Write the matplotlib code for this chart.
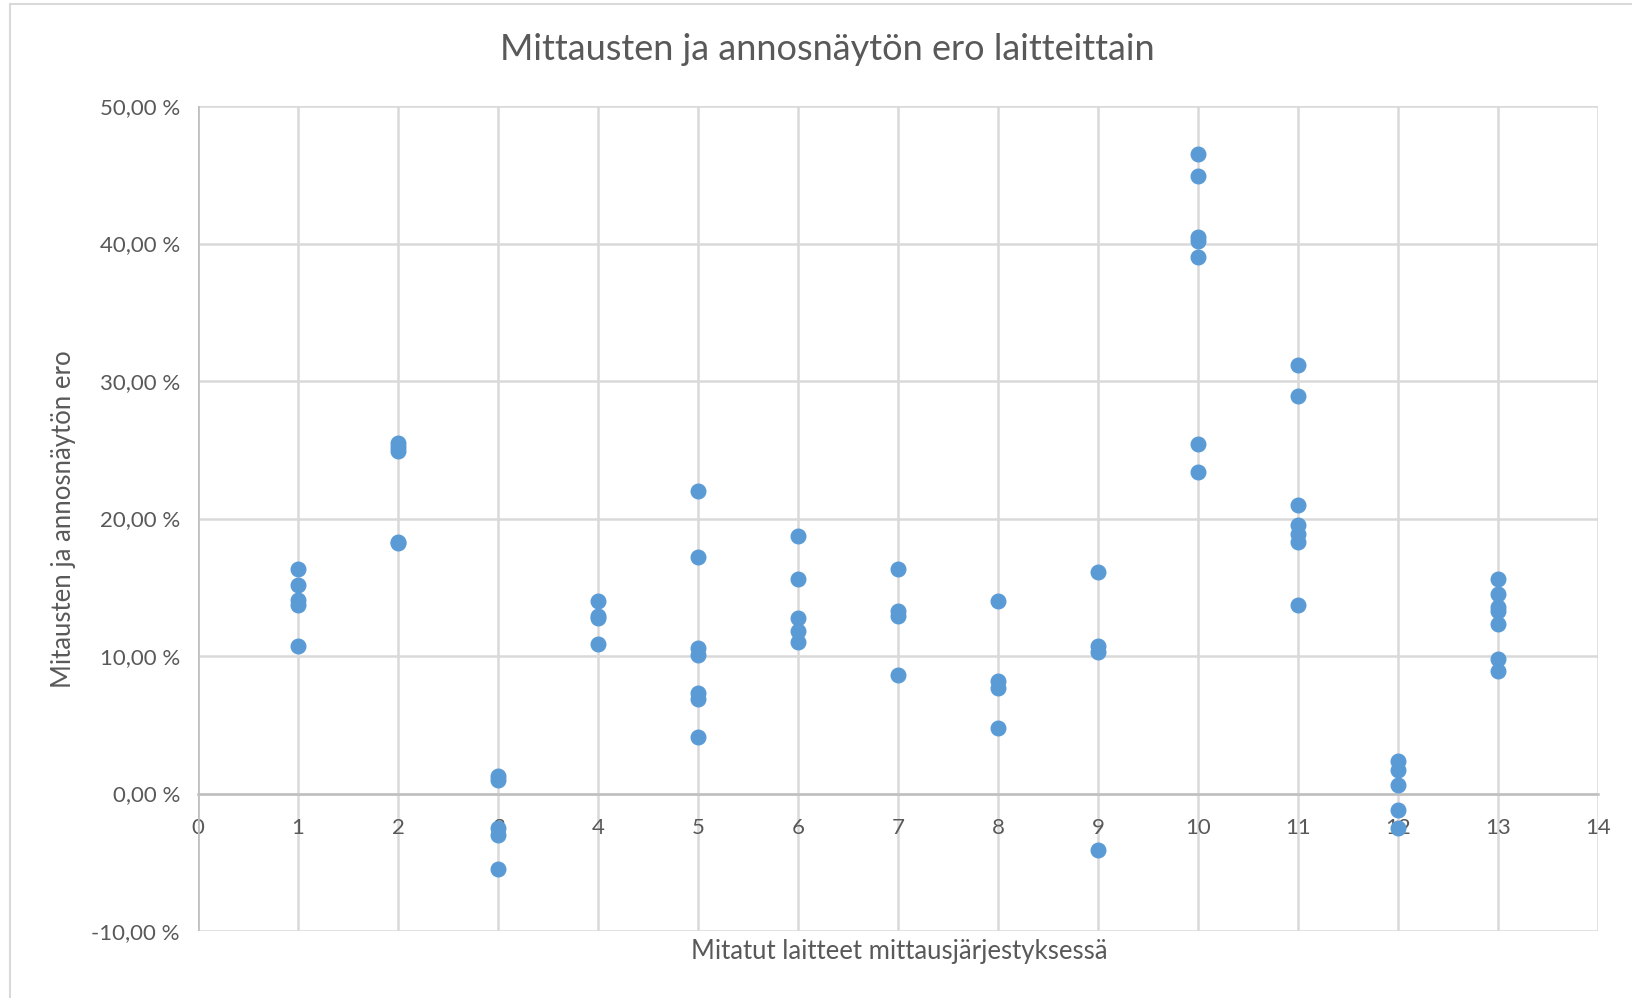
import matplotlib
matplotlib.use('Agg')
import matplotlib.pyplot as plt
from matplotlib.ticker import FuncFormatter, MultipleLocator
from matplotlib.patches import Rectangle

plt.rcParams['font.family'] = ['Lato', 'DejaVu Sans']

# Erot laitteittain (%)
laite_1 = [16.3, 15.2, 14.1, 13.7, 10.7]
laite_2 = [25.5, 25.2, 24.9, 18.3, 18.2]
laite_3 = [1.3, 1.0, -2.5, -3.0, -5.5]
laite_4 = [14.0, 12.9, 12.8, 10.9]
laite_5 = [22.0, 17.2, 10.6, 10.1, 7.3, 6.9, 4.1]
laite_6 = [18.7, 15.6, 12.8, 11.8, 11.0]
laite_7 = [16.3, 13.3, 12.9, 8.6]
laite_8 = [14.0, 8.2, 7.7, 4.8]
laite_9 = [16.1, 10.7, 10.3, -4.1]
laite_10 = [46.5, 44.9, 40.5, 40.2, 39.0, 25.4, 23.4]
laite_11 = [31.2, 28.9, 21.0, 19.5, 18.9, 18.3, 13.7]
laite_12 = [2.4, 1.7, 0.6, -1.2, -2.5]
laite_13 = [15.6, 14.5, 13.6, 13.3, 12.3, 9.8, 8.9]

laitteet = [laite_1, laite_2, laite_3, laite_4, laite_5, laite_6, laite_7,
            laite_8, laite_9, laite_10, laite_11, laite_12, laite_13]

x = []
y = []
for i, erot in enumerate(laitteet):
    x += [i + 1] * len(erot)
    y += erot

tekstivari = '#595959'
gridvari = '#D9D9D9'

fig = plt.figure(figsize=(16.32, 9.98), dpi=100)
ax = fig.add_axes([198/1632, 67/998, 1400/1632, 825/998])

# ulkoreunus
fig.patches.append(Rectangle((10/1632, -0.01), 1.1, (998-4)/998 + 0.01, transform=fig.transFigure,
                             fill=False, edgecolor='#D9D9D9', linewidth=1.5))

ax.plot(x, y, 'o', color='#5B9BD5', markersize=10.5, zorder=3)

ax.set_xlim(0, 14)
ax.set_ylim(-10, 50)
ax.xaxis.set_major_locator(MultipleLocator(1))
ax.yaxis.set_major_locator(MultipleLocator(10))
ax.yaxis.set_major_formatter(FuncFormatter(lambda v, p: ('%.2f %%' % v).replace('.', ',')))

ax.grid(True, color=gridvari, linewidth=1.8, zorder=0)
ax.set_axisbelow(True)
for s in ['top', 'right', 'left']:
    ax.spines[s].set_visible(False)
ax.spines['bottom'].set_position(('data', 0))
ax.spines['bottom'].set_color('#BFBFBF')
ax.spines['bottom'].set_linewidth(1.8)
ax.axvline(0, color='#BFBFBF', linewidth=1.8, zorder=1)

ax.tick_params(axis='both', length=0, labelsize=16, colors=tekstivari)
ax.tick_params(axis='x', pad=18)
ax.tick_params(axis='y', pad=13)

fig.text(827/1632, 1 - 50/998, 'Mittausten ja annosnäytön ero laitteittain',
         fontsize=26, color=tekstivari, ha='center', va='center')
fig.text(64/1632, 1 - 519/998, 'Mitausten ja annosnäytön ero', rotation=90,
         fontsize=18.5, color=tekstivari, ha='center', va='center')
fig.text(899/1632, 1 - 952/998, 'Mitatut laitteet mittausjärjestyksessä',
         fontsize=18.5, color=tekstivari, ha='center', va='center')

fig.savefig('out.png', dpi=100, facecolor='white')
